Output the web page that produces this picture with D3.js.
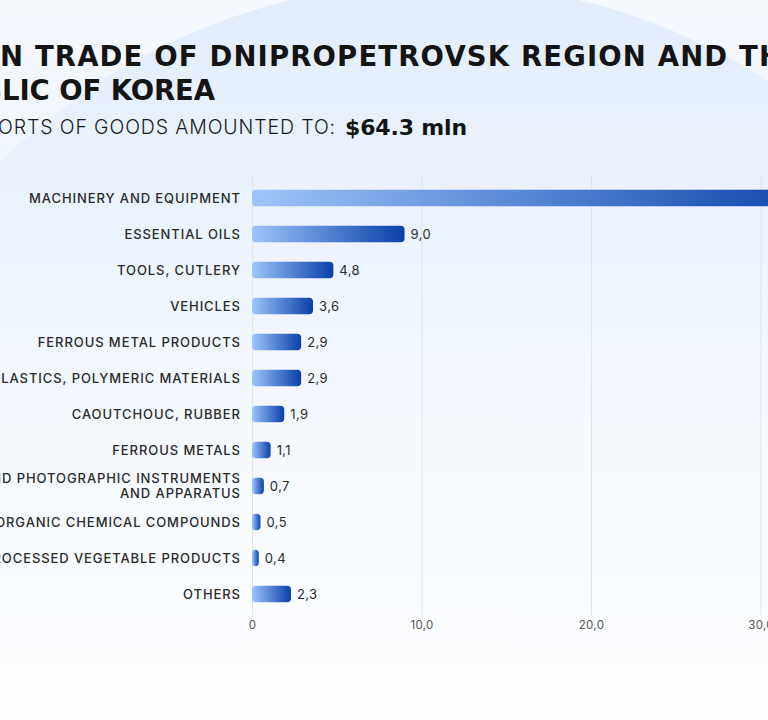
<!DOCTYPE html>
<html>
<head>
<meta charset="utf-8">
<script src="https://cdn.jsdelivr.net/npm/d3@7"></script>
<style>
  html, body { margin: 0; padding: 0; overflow: hidden; background: #fff; }
  svg { display: block; font-family: Inter, "Noto Sans", sans-serif; }
</style>
</head>
<body>
<div id="chart"></div>
<script>
var categories = [
  "MACHINERY AND EQUIPMENT",
  "ESSENTIAL OILS",
  "TOOLS, CUTLERY",
  "VEHICLES",
  "FERROUS METAL PRODUCTS",
  "PLASTICS, POLYMERIC MATERIALS",
  "CAOUTCHOUC, RUBBER",
  "FERROUS METALS",
  "OPTICAL AND PHOTOGRAPHIC INSTRUMENTS|AND APPARATUS",
  "ORGANIC CHEMICAL COMPOUNDS",
  "PROCESSED VEGETABLE PRODUCTS",
  "OTHERS"
];
var values = [34.2, 9.0, 4.8, 3.6, 2.9, 2.9, 1.9, 1.1, 0.7, 0.5, 0.4, 2.3];
var tickValues = [0, 10, 20, 30, 40];
var titleLines = ["FOREIGN TRADE OF DNIPROPETROVSK REGION AND THE", "REPUBLIC OF KOREA"];
var subtitle = "IMPORTS OF GOODS AMOUNTED TO:";
var total = "$64.3 mln";

var width = 768, height = 720;

var svg = d3.select("#chart").append("svg")
  .attr("width", width)
  .attr("height", height);

var defs = svg.append("defs");

// background + big pale circle behind the title
var bg = defs.append("linearGradient").attr("id", "bg")
  .attr("x1", 0).attr("y1", 0).attr("x2", 0).attr("y2", 1);
bg.append("stop").attr("offset", "0%").attr("stop-color", "#f5f8fd");
bg.append("stop").attr("offset", "30%").attr("stop-color", "#eff5fd");
bg.append("stop").attr("offset", "100%").attr("stop-color", "#fdfeff");

var circ = defs.append("linearGradient").attr("id", "circ")
  .attr("gradientUnits", "userSpaceOnUse")
  .attr("x1", 0).attr("y1", 0).attr("x2", 0).attr("y2", 420);
circ.append("stop").attr("offset", "0%").attr("stop-color", "#e2edfc").attr("stop-opacity", 1);
circ.append("stop").attr("offset", "40%").attr("stop-color", "#e6f0fc").attr("stop-opacity", 0.7);
circ.append("stop").attr("offset", "100%").attr("stop-color", "#eef5fd").attr("stop-opacity", 0);

svg.append("rect").attr("width", width).attr("height", height).attr("fill", "url(#bg)");
svg.append("circle").attr("cx", 435).attr("cy", 600).attr("r", 617).attr("fill", "url(#circ)");

// bar gradient, light on the left to dark at the end of each bar
var bar = defs.append("linearGradient").attr("id", "bar")
  .attr("x1", 0).attr("y1", 0).attr("x2", 1).attr("y2", 0);
bar.append("stop").attr("offset", "0%").attr("stop-color", "#9ec4fa");
bar.append("stop").attr("offset", "100%").attr("stop-color", "#0a40a9");

// spread a text so chars [a,b) take up `target` px, start char a at visibleX
function fitText(t, a, b, target, visibleX) {
  var node = t.node();
  var w = node.getSubStringLength(a, b - a);
  var sp = (target - w) / (b - a);
  var hidden = a > 0 ? node.getSubStringLength(0, a) + sp * a : 0;
  t.attr("letter-spacing", sp).attr("x", visibleX - hidden);
  return sp;
}

var t1 = svg.append("text").attr("y", 66)
  .attr("font-family", "'DejaVu Sans', sans-serif")
  .attr("font-size", 27.5).attr("font-weight", 700).attr("fill", "#141414")
  .text(titleLines[0]);
fitText(t1, 6, 44, 759, 0);

var t2 = svg.append("text").attr("y", 100)
  .attr("font-family", "'DejaVu Sans', sans-serif")
  .attr("font-size", 27.5).attr("font-weight", 700).attr("fill", "#141414")
  .text(titleLines[1]);
fitText(t2, 5, 17, 213, 2);

var st = svg.append("text").attr("y", 134)
  .attr("font-size", 19.5).attr("font-weight", 300).attr("fill", "#1a1a1a")
  .text(subtitle);
fitText(st, 3, subtitle.length, 338, -2);

var tt = svg.append("text").attr("y", 135)
  .attr("font-family", "'DejaVu Sans', sans-serif")
  .attr("font-size", 22).attr("font-weight", 700).attr("fill", "#141414")
  .text(total);
fitText(tt, 0, total.length, 122, 345);

// scales
var x = d3.scaleLinear().domain([0, 40]).range([252, 930]);
var y = d3.scaleBand().domain(categories).range([180, 612]).paddingInner(0.54).paddingOuter(0.27);

// grid
svg.append("g").selectAll("line")
  .data(tickValues)
  .enter().append("line")
    .attr("x1", function(d) { return x(d) + 0.5; })
    .attr("x2", function(d) { return x(d) + 0.5; })
    .attr("y1", 176)
    .attr("y2", 615)
    .attr("stroke", "#e0e4ea")
    .attr("stroke-width", 1);

// tick labels
var axis = d3.axisBottom(x)
  .tickValues(tickValues)
  .tickSize(0)
  .tickPadding(0)
  .tickFormat(function(d) { return d === 0 ? "0" : d3.format(".1f")(d).replace(".", ","); });
var ax = svg.append("g").attr("transform", "translate(0,621)").call(axis);
ax.select(".domain").remove();
ax.selectAll("text")
  .attr("font-size", 11.5)
  .attr("font-family", "Inter, sans-serif")
  .attr("letter-spacing", 0.3)
  .attr("fill", "#555")
  .attr("dy", "0.71em");

// bars
svg.append("g").selectAll("rect")
  .data(values)
  .enter().append("rect")
    .attr("x", x(0))
    .attr("y", function(d, i) { return y(categories[i]); })
    .attr("width", function(d) { return x(d) - x(0); })
    .attr("height", y.bandwidth())
    .attr("rx", 4)
    .attr("fill", "url(#bar)");

// value labels
svg.append("g").selectAll("text")
  .data(values)
  .enter().append("text")
    .attr("x", function(d) { return x(d) + 6; })
    .attr("y", function(d, i) { return y(categories[i]) + y.bandwidth() / 2; })
    .attr("dy", "0.35em")
    .attr("font-size", 13)
    .attr("letter-spacing", 0.4)
    .attr("fill", "#2a2a2a")
    .text(function(d) { return d3.format(".1f")(d).replace(".", ","); });

// category labels, spacing taken from the first one
var probe = svg.append("text").attr("font-size", 13).attr("font-weight", 500).text(categories[0]);
var labelSpacing = (211 - probe.node().getComputedTextLength()) / (categories[0].length - 1);
probe.remove();

var labels = svg.append("g").selectAll("text")
  .data(categories)
  .enter().append("text")
    .attr("text-anchor", "end")
    .attr("font-size", 13)
    .attr("font-weight", 500)
    .attr("letter-spacing", labelSpacing)
    .attr("fill", "#2a2a2a")
    .attr("y", function(d) { return y(d) + y.bandwidth() / 2; });

labels.each(function(d) {
  var parts = d.split("|");
  var t = d3.select(this);
  parts.forEach(function(p, j) {
    t.append("tspan")
      .attr("x", 240 + labelSpacing)
      .attr("dy", j === 0 ? (0.35 - (parts.length - 1) * 0.6) + "em" : "1.2em")
      .text(p);
  });
});
</script>
</body>
</html>
